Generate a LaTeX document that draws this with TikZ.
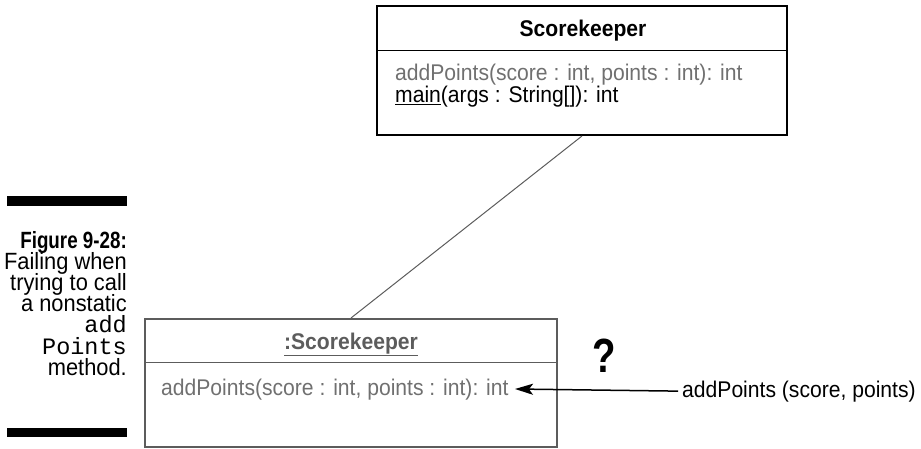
\documentclass[tikz,border=0pt]{standalone}
\usepackage{fontspec}
\setmainfont[FakeStretch=0.93]{Liberation Sans}
\setmonofont{Liberation Mono}
\usetikzlibrary{arrows.meta}

\definecolor{opgray}{HTML}{707070}
\definecolor{boxgray}{HTML}{5C5C5C}

\tikzset{
  umlbox/.style={draw, rectangle, line width=2pt, inner sep=0pt},
  optext/.style={anchor=base west, inner sep=0pt, font=\fontsize{22.7}{26}\selectfont},
  titletext/.style={anchor=base, inner sep=0pt, font=\fontsize{22.7}{26}\selectfont\bfseries},
}

\begin{document}
\begin{tikzpicture}[x=1pt, y=-1pt, >=Stealth]
    \useasboundingbox (0,0) rectangle (921,449);
    % class box
    \node[umlbox, minimum width=410pt, minimum height=129pt] (cls) at (582,70.5) {};
    \draw[line width=1pt] (cls.west |- 0,51) -- (cls.east |- 0,51);
    \node[titletext] (clsname) at (583,37) {Scorekeeper};
    \node[optext, text=opgray] (clsop) at (395,81) {addPoints(score : int, points : int): int};
    \node[optext] (clsmain) at (395,103) {\underline{main}(args : String[]): int};
    % object box
    \node[umlbox, draw=boxgray, minimum width=412pt, minimum height=128pt] (obj) at (351,383) {};
    \draw[boxgray, line width=1pt] (obj.west |- 0,362) -- (obj.east |- 0,362);
    \node[titletext, text=boxgray] (objname) at (351,349) {\underline{:Scorekeeper}};
    \node[optext, text=opgray] (objop) at (161,395) {addPoints(score : int, points : int): int};
    \draw[boxgray, line width=1pt] (cls.south) -- (obj.north);
    % the call
    \node[optext] (call) at (682,397) {addPoints (score, points)};
    \begin{scope}[shift={(604,372)}, xscale=0.86]
        \node[anchor=base, inner sep=0pt, transform shape, font=\fontsize{48}{48}\selectfont\bfseries] (q) at (0,0) {?};
    \end{scope}
    \coordinate (tip) at (515,389);
    \draw[<-, line width=1.5pt, >={Stealth[length=18pt, width=11pt, inset=4pt]}] (tip) -- ([xshift=-4pt]call.west);
    % caption
    \fill (7,196) rectangle (127,206);
    \fill (7,428) rectangle (127,437);
    \begin{scope}[shift={(127,248)}, xscale=0.86]
        \node[anchor=base east, inner sep=0pt, transform shape, font=\fontsize{23.5}{21}\selectfont\bfseries] (figno) at (0,0) {Figure 9-28:};
    \end{scope}
    \node[anchor=north east, align=right, inner sep=0pt, font={\fontsize{23.5}{21.2}\selectfont\lineskiplimit=-20pt\relax}] (cap) at (127,252)
        {Failing when\\trying to call\\a nonstatic\\\texttt{add}\\\texttt{Points}\\method.};
\end{tikzpicture}
\end{document}
